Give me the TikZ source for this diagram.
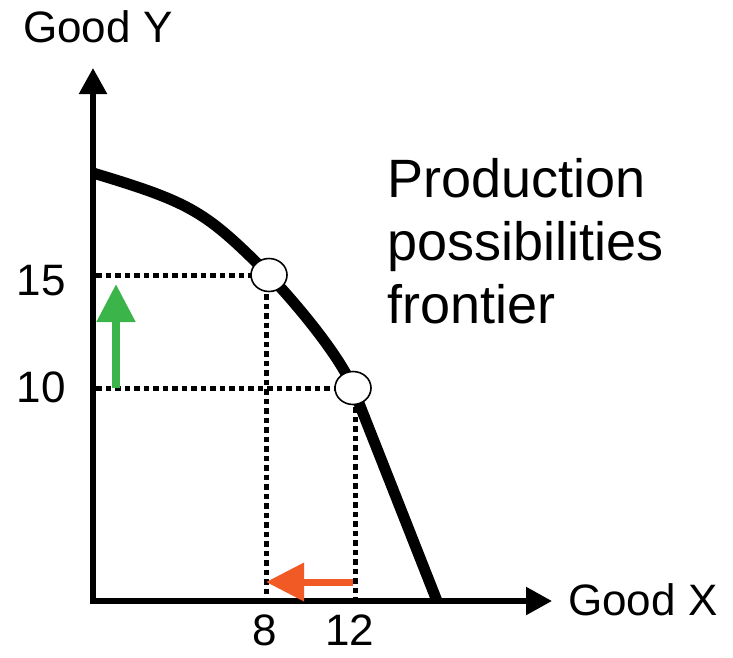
\documentclass[tikz,border=0pt]{standalone}
\usepackage{fontspec}
\setmainfont{Liberation Sans}
\usetikzlibrary{arrows.meta,shapes.geometric}
\definecolor{upgreen}{HTML}{3BB54A}
\definecolor{leftorange}{HTML}{F15A24}
\begin{document}
\begin{tikzpicture}[x=1pt,y=-1pt,
  axis/.style={line width=5.5pt,-{Triangle[width=27pt,length=26pt]}},
  ppf/.style={line width=11pt},
  guide/.style={line width=5pt,dash pattern=on 5.5pt off 4pt},
  pt/.style={draw=black,fill=white,line width=1.6pt,ellipse,minimum width=36pt,minimum height=33pt,inner sep=0pt},
  shift arrow/.style={line width=8pt,-{Triangle[width=37pt,length=38pt]}},
  axlabel/.style={inner sep=0pt,font=\fontsize{44}{50}\selectfont},
  titlelabel/.style={inner sep=0pt,anchor=base west,font=\fontsize{54}{63}\selectfont}]
\useasboundingbox (0,0) rectangle (733,657);
% axes
\coordinate (O) at (93,601);
\coordinate (Ytop) at (93,68);
\coordinate (Xtip) at (552,601);
\draw[axis] ([yshift=2.75pt]O) -- (Ytop);
\draw[axis] ([xshift=-2.75pt]O) -- (Xtip);
% frontier points
\coordinate (Ystart) at (93,173);
\coordinate (A) at (269,275);
\coordinate (B) at (353,388);
\coordinate (Xend) at (437,601);
% guide lines
\coordinate (A15) at (96,275);
\coordinate (B10) at (96,388);
\coordinate (A8) at (266,601);
\coordinate (B12) at (355,601);
\draw[guide] (A15) -- (A);
\draw[guide] (B10) -- (B);
\draw[guide] (266,275) -- (A8);
\draw[guide] (355,388) -- (B12);
% frontier
\draw[ppf,line join=round] (Ystart) .. controls (193,203) and (206,212) .. (A)
  .. controls (309,317.5) and (343,363) .. (B) -- (Xend);
% points
\node[pt] (pA) at (A) {};
\node[pt] (pB) at (B) {};
% shift arrows
\coordinate (g0) at (116,388);
\coordinate (g1) at (116,284);
\draw[shift arrow,draw=upgreen,fill=upgreen] (g0) -- (g1);
\coordinate (o0) at (353,582);
\coordinate (o1) at (266,582);
\draw[shift arrow,draw=leftorange,fill=leftorange,line width=7pt] (o0) -- (o1);
% labels
\node[axlabel,anchor=base west] (ylab) at (23,42) {Good Y};
\node[axlabel,anchor=base west] (xlab) at (568,615) {Good X};
\node[axlabel,anchor=base east] (l15) at (66,295) {15};
\node[axlabel,anchor=base east] (l10) at (66,402) {10};
\node[axlabel,anchor=base] (l8) at (265,645) {8};
\node[axlabel,anchor=base] (l12) at (350,645) {12};
\node[titlelabel] (t1) at (387,197) {Production};
\node[titlelabel] (t2) at (387,260) {possibilities};
\node[titlelabel] (t3) at (387,323) {frontier};
\end{tikzpicture}
\end{document}
